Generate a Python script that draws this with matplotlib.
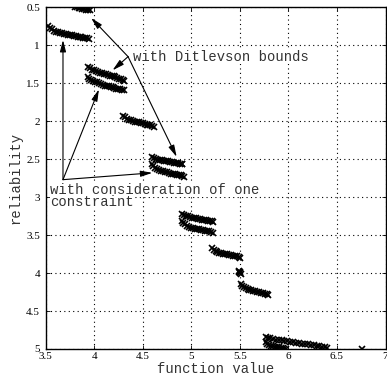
# reliability vs function value, pareto-like clusters
import matplotlib.pyplot as plt

# clusters (function value, reliability)
c1_x = [3.80, 3.82, 3.84, 3.86, 3.88, 3.90, 3.92, 3.94, 3.96]
c1_y = [0.49, 0.50, 0.51, 0.515, 0.52, 0.525, 0.53, 0.535, 0.54]

c2_x = [3.53, 3.55, 3.57, 3.59, 3.61, 3.63, 3.65, 3.67, 3.69, 3.71, 3.73,
        3.75, 3.77, 3.79, 3.81, 3.83, 3.85, 3.87, 3.89, 3.91, 3.93, 3.95]
c2_y = [0.74, 0.77, 0.79, 0.81, 0.82, 0.83, 0.84, 0.845, 0.85, 0.855, 0.86,
        0.865, 0.87, 0.875, 0.88, 0.885, 0.89, 0.895, 0.90, 0.905, 0.91, 0.92]

c3_x = [3.94, 3.96, 3.98, 4.00, 4.02, 4.04, 4.06, 4.08, 4.10, 4.12,
        4.14, 4.16, 4.18, 4.20, 4.22, 4.24, 4.26, 4.28, 4.30, 4.31]
c3_y = [1.29, 1.30, 1.32, 1.33, 1.34, 1.35, 1.36, 1.37, 1.375, 1.38,
        1.39, 1.40, 1.405, 1.41, 1.42, 1.43, 1.44, 1.45, 1.46, 1.47]

c4_x = [3.94, 3.95, 3.97, 3.99, 4.01, 4.03, 4.05, 4.07, 4.09, 4.11,
        4.13, 4.15, 4.17, 4.19, 4.21, 4.23, 4.25, 4.27, 4.29, 4.31]
c4_y = [1.42, 1.44, 1.46, 1.47, 1.48, 1.49, 1.50, 1.51, 1.52, 1.53,
        1.535, 1.54, 1.545, 1.55, 1.56, 1.57, 1.575, 1.58, 1.585, 1.59]

c5_x = [4.30, 4.32, 4.34, 4.36, 4.38, 4.40, 4.42, 4.44, 4.46,
        4.48, 4.50, 4.52, 4.54, 4.56, 4.58, 4.60, 4.62]
c5_y = [1.93, 1.95, 1.97, 1.98, 1.99, 2.00, 2.005, 2.01, 2.015,
        2.02, 2.03, 2.04, 2.045, 2.05, 2.055, 2.06, 2.08]

c6_x = [4.60, 4.62, 4.64, 4.66, 4.68, 4.70, 4.72, 4.74, 4.76,
        4.78, 4.80, 4.82, 4.84, 4.86, 4.88, 4.90, 4.91]
c6_y = [2.47, 2.48, 2.495, 2.505, 2.51, 2.515, 2.52, 2.525, 2.53,
        2.535, 2.54, 2.545, 2.55, 2.555, 2.56, 2.565, 2.57]

c7_x = [4.60, 4.61, 4.63, 4.65, 4.67, 4.69, 4.71, 4.73, 4.75,
        4.77, 4.79, 4.81, 4.83, 4.85, 4.87, 4.89, 4.91, 4.93]
c7_y = [2.57, 2.59, 2.61, 2.63, 2.64, 2.65, 2.66, 2.665, 2.67,
        2.68, 2.69, 2.695, 2.70, 2.705, 2.71, 2.715, 2.72, 2.74]

c8_x = [4.91, 4.93, 4.95, 4.97, 4.99, 5.01, 5.03, 5.05, 5.07,
        5.09, 5.11, 5.13, 5.15, 5.17, 5.19, 5.21, 5.22]
c8_y = [3.22, 3.23, 3.245, 3.255, 3.26, 3.27, 3.275, 3.28, 3.285,
        3.29, 3.295, 3.30, 3.305, 3.31, 3.315, 3.32, 3.33]

c9_x = [4.91, 4.92, 4.94, 4.96, 4.98, 5.00, 5.02, 5.04, 5.06,
        5.08, 5.10, 5.12, 5.14, 5.16, 5.18, 5.20, 5.22]
c9_y = [3.32, 3.34, 3.36, 3.38, 3.39, 3.40, 3.41, 3.415, 3.42,
        3.425, 3.43, 3.435, 3.44, 3.445, 3.45, 3.46, 3.47]

c10_x = [5.21, 5.23, 5.25, 5.27, 5.29, 5.31, 5.33, 5.35,
         5.37, 5.39, 5.41, 5.43, 5.45, 5.47, 5.49, 5.50]
c10_y = [3.67, 3.69, 3.71, 3.72, 3.73, 3.74, 3.745, 3.75,
         3.755, 3.76, 3.765, 3.77, 3.775, 3.78, 3.79, 3.80]

c11_x = [5.49, 5.495, 5.50, 5.505, 5.51]
c11_y = [3.97, 3.98, 3.99, 4.00, 4.01]

c12_x = [5.51, 5.52, 5.54, 5.56, 5.58, 5.60, 5.62, 5.64,
         5.66, 5.68, 5.70, 5.72, 5.74, 5.76, 5.78, 5.79]
c12_y = [4.15, 4.17, 4.19, 4.20, 4.21, 4.22, 4.225, 4.23,
         4.24, 4.25, 4.255, 4.26, 4.265, 4.27, 4.28, 4.29]

c13_x = [5.77, 5.79, 5.81, 5.84, 5.87, 5.90, 5.93, 5.96, 5.99, 6.02, 6.05, 6.08,
         6.11, 6.14, 6.17, 6.20, 6.23, 6.26, 6.29, 6.32, 6.35, 6.38, 6.40]
c13_y = [4.84, 4.855, 4.86, 4.865, 4.875, 4.88, 4.885, 4.89, 4.90, 4.905, 4.91, 4.915,
         4.92, 4.93, 4.935, 4.94, 4.945, 4.95, 4.96, 4.965, 4.97, 4.98, 4.99]

c14_x = [5.77, 5.78, 5.80, 5.82, 5.84, 5.86, 5.88, 5.90, 5.92, 5.94, 5.96, 5.98, 6.76]
c14_y = [4.91, 4.93, 4.945, 4.955, 4.96, 4.97, 4.975, 4.98, 4.985, 4.99, 4.995, 5.00, 5.00]

clusters = [(c1_x, c1_y), (c2_x, c2_y), (c3_x, c3_y), (c4_x, c4_y), (c5_x, c5_y),
            (c6_x, c6_y), (c7_x, c7_y), (c8_x, c8_y), (c9_x, c9_y), (c10_x, c10_y),
            (c11_x, c11_y), (c12_x, c12_y), (c13_x, c13_y), (c14_x, c14_y)]

x_ticks = [3.5, 4, 4.5, 5, 5.5, 6, 6.5, 7]
x_tick_labels = ['3.5', '4', '4.5', '5', '5.5', '6', '6.5', '7']
y_ticks = [0.5, 1, 1.5, 2, 2.5, 3, 3.5, 4, 4.5, 5]
y_tick_labels = ['0.5', '1', '1.5', '2', '2.5', '3', '3.5', '4', '4.5', '5']

# annotation arrows: origin and tips
one_origin = (3.68, 2.77)
one_tips = [(3.68, 0.93), (4.05, 1.58), (4.60, 2.68)]
dit_origin = (4.35, 1.15)
dit_tips = [(3.97, 0.64), (4.19, 1.33), (4.85, 2.47)]

mono = 'Liberation Mono'
serif = 'Liberation Serif'
txt_color = '#333333'

fig = plt.figure(figsize=(3.87, 3.79), dpi=100)
ax = fig.add_axes([45.5 / 387, (379 - 349) / 379, 340 / 387, 341.7 / 379])

for cx, cy in clusters:
    ax.plot(cx, cy, 'x', color='k', markersize=4.5, markeredgewidth=1.2, zorder=3)

ax.set_xlim(3.5, 7)
ax.set_ylim(5, 0.5)
ax.set_xticks(x_ticks)
ax.set_xticklabels(x_tick_labels, fontfamily=serif, fontsize=8)
ax.set_yticks(y_ticks)
ax.set_yticklabels(y_tick_labels, fontfamily=serif, fontsize=8)
ax.tick_params(direction='in', length=3, width=0.6, top=True, right=True, pad=2)
ax.tick_params(axis='y', pad=4)
ax.grid(True, color='k', linestyle=(0, (1, 3)), linewidth=0.8)
for s in ax.spines.values():
    s.set_linewidth(1.0)

ax.set_xlabel('function value', fontfamily=mono, fontsize=10, labelpad=1, color=txt_color)
ax.set_ylabel('reliability', fontfamily=mono, fontsize=10, labelpad=3, color=txt_color)

arrow = dict(arrowstyle='-|>,head_length=0.7,head_width=0.18', color='k', lw=0.8,
             mutation_scale=10, shrinkA=0, shrinkB=0)
for tip in one_tips:
    ax.annotate('', xy=tip, xytext=one_origin, arrowprops=arrow, zorder=4)
for tip in dit_tips:
    ax.annotate('', xy=tip, xytext=dit_origin, arrowprops=arrow, zorder=4)

box = dict(facecolor='white', edgecolor='none', pad=0)
ax.text(4.40, 1.15, 'with Ditlevson bounds', fontfamily=mono, fontsize=10,
        va='center', ha='left', color=txt_color, bbox=box, zorder=5)
ax.text(3.546, 2.905, 'with consideration of one', fontfamily=mono, fontsize=10,
        va='center', ha='left', color=txt_color, bbox=box, zorder=5)
ax.text(3.546, 3.07, 'constraint', fontfamily=mono, fontsize=10,
        va='center', ha='left', color=txt_color, bbox=box, zorder=5)

plt.savefig('out.png', dpi=100)
